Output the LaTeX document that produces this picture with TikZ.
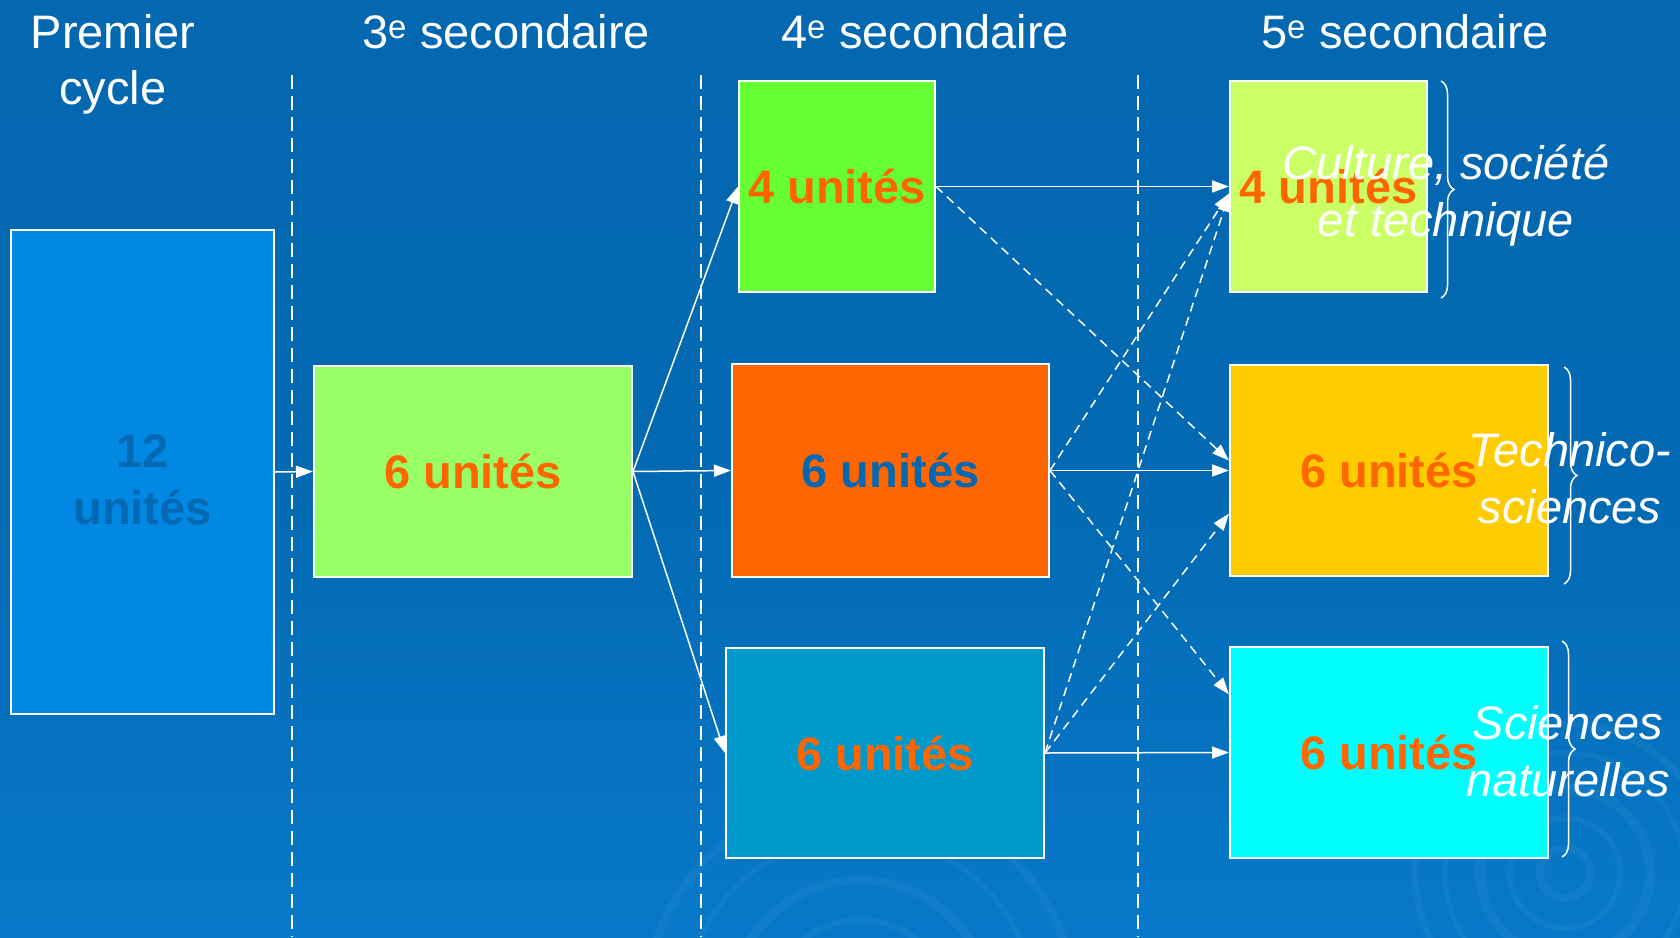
\documentclass[tikz,border=0pt]{standalone}
\usepackage{fontspec}
\setmainfont{Liberation Sans}
\usetikzlibrary{arrows.meta,decorations.pathreplacing,calc}
\definecolor{unitorange}{HTML}{FF6600}
\definecolor{pcfill}{HTML}{0088E3}
\definecolor{pctext}{HTML}{0468B3}
\definecolor{sfill}{HTML}{99FF66}
\definecolor{tfourfill}{HTML}{66FF33}
\definecolor{mfourfill}{HTML}{FF6600}
\definecolor{mfourtext}{HTML}{0467B1}
\definecolor{bfourfill}{HTML}{0099CC}
\definecolor{tfivefill}{HTML}{CCFF66}
\definecolor{mfivefill}{HTML}{FFCC00}
\definecolor{bfivefill}{HTML}{00FFFF}
\definecolor{bgtop}{HTML}{0367AE}
\definecolor{bgmid}{HTML}{0369B2}
\definecolor{bgbot}{HTML}{0B88E0}
\pgfdeclareverticalshading{bgshade}{100bp}{color(0bp)=(bgbot); color(50bp)=(bgmid); color(100bp)=(bgtop)}
\begin{document}
\begin{tikzpicture}[x=1pt,y=-1pt,
  ubox/.style={draw=white, line width=2pt, inner sep=0pt, font=\bfseries\fontsize{47}{57}\selectfont, align=center, text=unitorange},
  hdr/.style={text=white, font=\fontsize{47}{56}\selectfont, inner sep=0pt, align=center},
  ilbl/.style={text=white, font=\itshape\fontsize{47}{57}\selectfont, inner sep=0pt, align=center},
  conn/.style={draw=white, line width=1.5pt, -{Triangle[length=17pt,width=12pt]}},
  dconn/.style={conn, dash pattern=on 9pt off 6pt},
  divider/.style={draw=white, line width=1.8pt, dash pattern=on 14pt off 7pt},
  brc/.style={draw=white, line width=1.5pt, decorate, decoration={brace, amplitude=13pt}},
  ripple/.style={draw=white, opacity=0.045}
]
\useasboundingbox (0,0) rectangle (1680,937);
\shade[shading=bgshade] (0,0) rectangle (1680,937);
\begin{scope}
  \clip (0,0) rectangle (1680,937);
  \foreach \r/\w in {25/8,55/6,85/10,120/5,150/7}
    \draw[ripple, line width=\w pt] (1565,873) circle (\r);
  \foreach \r/\w in {90/6,130/9,175/5,215/8}
    \draw[ripple, line width=\w pt] (860,1010) circle (\r);
\end{scope}
% dividers
\coordinate (d1t) at (292,75); \coordinate (d1b) at (292,937);
\coordinate (d2t) at (701,75); \coordinate (d2b) at (701,937);
\coordinate (d3t) at (1138,75); \coordinate (d3b) at (1138,937);
\draw[divider] (d1t) -- (d1b);
\draw[divider] (d2t) -- (d2b);
\draw[divider] (d3t) -- (d3b);
% headers
\node[hdr] (hpc) at (113,64) {Premier\\cycle};
\node[hdr, anchor=base] (h3) at (506,48) {3\textsuperscript{e} secondaire};
\node[hdr, anchor=base] (h4) at (925,48) {4\textsuperscript{e} secondaire};
\node[hdr, anchor=base] (h5) at (1405,48) {5\textsuperscript{e} secondaire};
% boxes
\node[ubox, fill=pcfill, text=pctext, minimum width=263pt, minimum height=484pt] (pc) at (142.5,472) {\rule{0pt}{49pt}12\\unités};
\node[ubox, fill=sfill, minimum width=318pt, minimum height=211pt] (s3) at (473,471.5) {6 unités};
\node[ubox, fill=tfourfill, minimum width=196pt, minimum height=211pt] (t4) at (837,186.5) {4 unités};
\node[ubox, fill=mfourfill, text=mfourtext, minimum width=317pt, minimum height=213pt] (m4) at (890.5,470.5) {6 unités};
\node[ubox, fill=bfourfill, minimum width=318pt, minimum height=210pt] (b4) at (885,753) {6 unités};
\node[ubox, fill=tfivefill, minimum width=197pt, minimum height=211pt] (t5) at (1328.5,186.5) {4 unités};
\node[ubox, fill=mfivefill, minimum width=318pt, minimum height=211pt] (m5) at (1389,470.5) {6 unités};
\node[ubox, fill=bfivefill, minimum width=318pt, minimum height=211pt] (b5) at (1389,752.5) {6 unités};
% connectors
\draw[conn] (pc.east) -- (s3.west);
\draw[conn] (s3.east) -- (t4.west);
\draw[conn] (s3.east) -- (m4.west);
\draw[conn] (s3.east) -- (b4.west);
\draw[conn] (t4.east) -- (t5.west);
\draw[conn] (m4.east) -- (m5.west);
\draw[conn] (b4.east) -- (b5.west);
\draw[dconn] (t4.east) -- ([yshift=10pt]m5.west);
\draw[dconn] (m4.east) -- ([yshift=-7pt]t5.west);
\draw[dconn] (m4.east) -- ([yshift=58pt]b5.west);
\draw[dconn] (b4.east) -- ([yshift=-8pt]t5.west);
\draw[dconn] (b4.east) -- ([yshift=-43pt]m5.west);
% labels
\node[ilbl] (l1) at (1446,196) {Culture, société\\et technique};
\node[ilbl] (l2) at (1570,478) {Technico-\\sciences};
\node[ilbl] (l3) at (1568,751) {Sciences\\naturelles};
% braces
\coordinate (b1t) at (1441,81); \coordinate (b1b) at (1441,298);
\coordinate (b2t) at (1564,367); \coordinate (b2b) at (1564,584);
\coordinate (b3t) at (1562,641); \coordinate (b3b) at (1562,857);
\draw[brc] (b1t) -- (b1b);
\draw[brc] (b2t) -- (b2b);
\draw[brc] (b3t) -- (b3b);
\end{tikzpicture}
\end{document}
